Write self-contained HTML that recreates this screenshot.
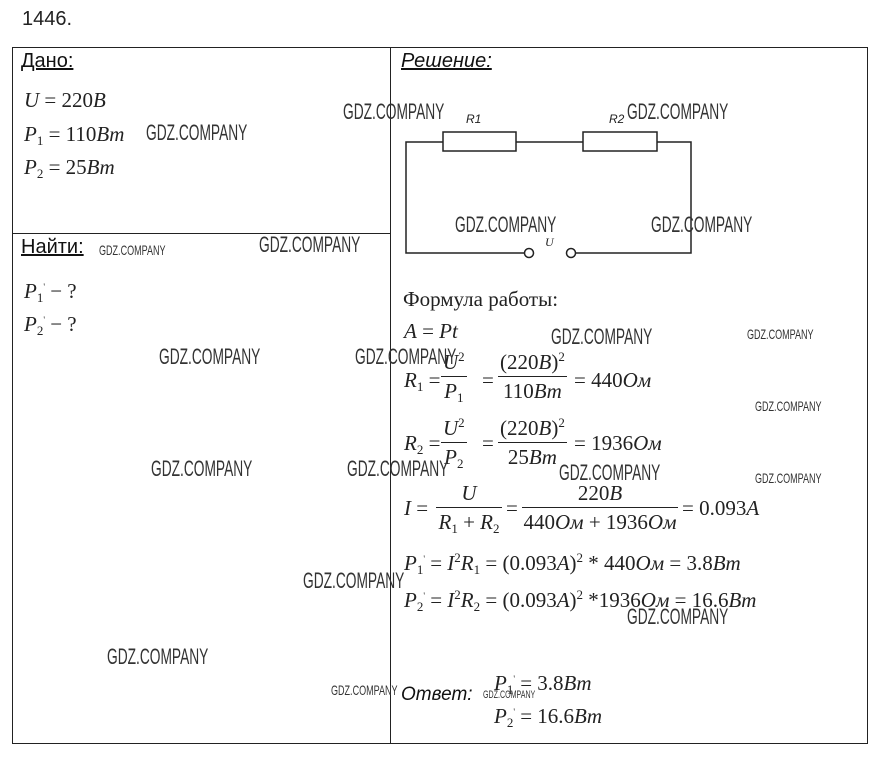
<!DOCTYPE html>
<html><head><meta charset="utf-8"><style>
body{margin:0;width:880px;height:759px;background:#fff;position:relative;overflow:hidden;font-family:"Liberation Serif",serif;color:#222}
.a{position:absolute;white-space:nowrap}
.w{position:absolute;white-space:nowrap;font-family:"Liberation Sans Narrow","Liberation Sans",sans-serif;font-size:22px;transform:scaleX(.625);transform-origin:0 0;color:#333;line-height:1}
.ws{position:absolute;white-space:nowrap;font-family:"Liberation Sans Narrow","Liberation Sans",sans-serif;font-size:14px;transform:scaleX(.645);transform-origin:0 0;color:#333;line-height:1}
.h{font-family:"Liberation Sans",sans-serif;font-size:20px;text-decoration:underline;color:#111}
.m{font-size:21px;line-height:1}
i{font-style:italic}
.f{position:absolute;text-align:center;font-size:21px;line-height:1}
.f .n{border-bottom:1px solid #222;padding:0 2px 3px}
.f .d{padding-top:4px}
sub{font-size:13px;vertical-align:-4px}
sup{font-size:13px;vertical-align:8px}
</style></head><body>
<div class="a" style="left:22px;top:8px;font-family:'Liberation Sans',sans-serif;font-size:20px;color:#222">1446.</div>
<div class="a" style="left:12px;top:47px;width:856px;height:697px;border:1px solid #222;box-sizing:border-box"></div>
<div class="a" style="left:390px;top:47px;width:1px;height:697px;background:#222"></div>
<div class="a" style="left:12px;top:233px;width:378px;height:1px;background:#222"></div>

<div class="a h" style="left:21px;top:50px">Дано:</div>
<div class="a h" style="left:21px;top:236px">Найти:</div>
<div class="a h" style="left:401px;top:50px"><i>Решение:</i></div>

<div class="a m" style="left:24px;top:90px"><i>U</i> = 220<i>B</i></div>
<div class="a m" style="left:24px;top:124px"><i>P</i><sub>1</sub> = 110<i>Bm</i></div>
<div class="a m" style="left:24px;top:157px"><i>P</i><sub>2</sub> = 25<i>Bm</i></div>
<div class="a m" style="left:24px;top:281px"><i>P</i><sub>1</sub><sup style="font-size:9px">'</sup> − ?</div>
<div class="a m" style="left:24px;top:314px"><i>P</i><sub>2</sub><sup style="font-size:9px">'</sup> − ?</div>

<svg class="a" style="left:0;top:0" width="880" height="759">
<g fill="none" stroke="#222" stroke-width="1.5">
<polyline points="443,142 406,142 406,253 524,253"/>
<line x1="516" y1="142" x2="583" y2="142"/>
<polyline points="657,142 691,142 691,253 576,253"/>
<rect x="443" y="132" width="73" height="19"/>
<rect x="583" y="132" width="74" height="19"/>
<circle cx="529" cy="253" r="4.5"/>
<circle cx="571" cy="253" r="4.5"/>
</g>
<text x="466" y="123" font-family="Liberation Sans" font-style="italic" font-size="12" fill="#222">R1</text>
<text x="609" y="123" font-family="Liberation Sans" font-style="italic" font-size="12" fill="#222">R2</text>
<text x="545" y="246" font-family="Liberation Serif" font-style="italic" font-size="12" fill="#222">U</text>
</svg>

<div class="a" style="left:403px;top:287px;font-size:21px">Формула работы:</div>
<div class="a m" style="left:404px;top:321px"><i>A</i> = <i>Pt</i></div>

<div class="a m" style="left:404px;top:370px"><i>R</i><sub>1</sub> =</div>
<div class="f" style="left:441px;top:350px"><div class="n"><i>U</i><sup>2</sup></div><div class="d"><i>P</i><sub>1</sub></div></div>
<div class="a m" style="left:482px;top:370px">=</div>
<div class="f" style="left:498px;top:350px"><div class="n">(220<i>B</i>)<sup>2</sup></div><div class="d">110<i>Bm</i></div></div>
<div class="a m" style="left:574px;top:370px">= 440<i>Ом</i></div>

<div class="a m" style="left:404px;top:433px"><i>R</i><sub>2</sub> =</div>
<div class="f" style="left:441px;top:416px"><div class="n"><i>U</i><sup>2</sup></div><div class="d"><i>P</i><sub>2</sub></div></div>
<div class="a m" style="left:482px;top:433px">=</div>
<div class="f" style="left:498px;top:416px"><div class="n">(220<i>B</i>)<sup>2</sup></div><div class="d">25<i>Bm</i></div></div>
<div class="a m" style="left:574px;top:433px">= 1936<i>Ом</i></div>

<div class="a m" style="left:404px;top:498px"><i>I</i> =</div>
<div class="f" style="left:436px;top:483px;width:66px"><div class="n"><i>U</i></div><div class="d"><i>R</i><sub>1</sub> + <i>R</i><sub>2</sub></div></div>
<div class="a m" style="left:506px;top:498px">=</div>
<div class="f" style="left:522px;top:483px;width:156px"><div class="n">220<i>B</i></div><div class="d">440<i>Ом</i> + 1936<i>Ом</i></div></div>
<div class="a m" style="left:682px;top:498px">= 0.093<i>A</i></div>

<div class="a m" style="left:404px;top:551px"><i>P</i><sub>1</sub><sup style="font-size:9px">'</sup> = <i>I</i><sup>2</sup><i>R</i><sub>1</sub> = (0.093<i>A</i>)<sup>2</sup> * 440<i>Ом</i> = 3.8<i>Bm</i></div>
<div class="a m" style="left:404px;top:588px"><i>P</i><sub>2</sub><sup style="font-size:9px">'</sup> = <i>I</i><sup>2</sup><i>R</i><sub>2</sub> = (0.093<i>A</i>)<sup>2</sup> *1936<i>Ом</i> = 16.6<i>Bm</i></div>

<div class="a" style="left:401px;top:684px;font-family:'Liberation Sans',sans-serif;font-size:19px;font-style:italic;color:#111">Ответ:</div>
<div class="a m" style="left:494px;top:673px"><i>P</i><sub>1</sub><sup style="font-size:9px">'</sup> = 3.8<i>Bm</i></div>
<div class="a m" style="left:494px;top:706px"><i>P</i><sub>2</sub><sup style="font-size:9px">'</sup> = 16.6<i>Bm</i></div>

<div class="w" style="left:146px;top:122px">GDZ.COMPANY</div>
<div class="w" style="left:343px;top:101px">GDZ.COMPANY</div>
<div class="w" style="left:627px;top:101px">GDZ.COMPANY</div>
<div class="w" style="left:259px;top:234px">GDZ.COMPANY</div>
<div class="ws" style="left:99px;top:243px">GDZ.COMPANY</div>
<div class="w" style="left:455px;top:214px">GDZ.COMPANY</div>
<div class="w" style="left:651px;top:214px">GDZ.COMPANY</div>
<div class="w" style="left:551px;top:326px">GDZ.COMPANY</div>
<div class="ws" style="left:747px;top:327px">GDZ.COMPANY</div>
<div class="w" style="left:159px;top:346px">GDZ.COMPANY</div>
<div class="w" style="left:355px;top:346px">GDZ.COMPANY</div>
<div class="ws" style="left:755px;top:399px">GDZ.COMPANY</div>
<div class="w" style="left:151px;top:458px">GDZ.COMPANY</div>
<div class="w" style="left:347px;top:458px">GDZ.COMPANY</div>
<div class="w" style="left:559px;top:462px">GDZ.COMPANY</div>
<div class="ws" style="left:755px;top:471px">GDZ.COMPANY</div>
<div class="w" style="left:303px;top:570px">GDZ.COMPANY</div>
<div class="w" style="left:627px;top:606px">GDZ.COMPANY</div>
<div class="w" style="left:107px;top:646px">GDZ.COMPANY</div>
<div class="ws" style="left:331px;top:683px">GDZ.COMPANY</div>
<div class="ws" style="left:483px;top:690px;font-size:11px">GDZ.COMPANY</div>
</body></html>
